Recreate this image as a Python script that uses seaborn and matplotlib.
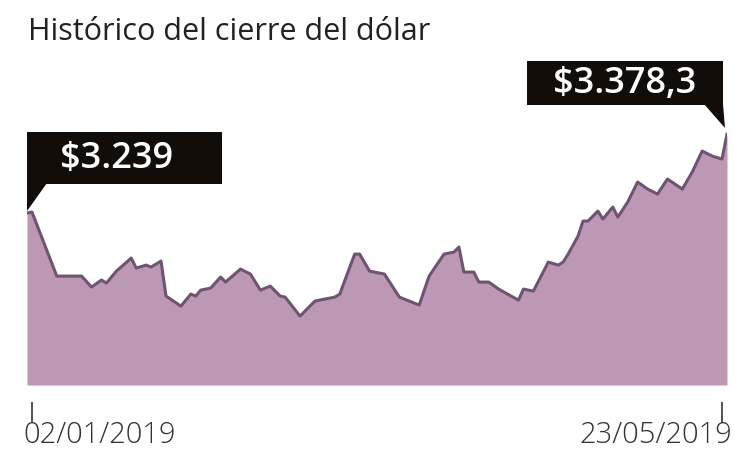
import pandas as pd
import numpy as np
import matplotlib
matplotlib.use("Agg")
from matplotlib import pyplot as plt
from matplotlib.patches import Polygon
import matplotlib.dates as mdates
import matplotlib.transforms as mtransforms
import seaborn as sns

# days after 02/01/2019 and closing price
day_offsets = [0, 1, 6, 11, 13, 15, 16, 18, 21, 22, 24, 25, 27, 28, 31, 33, 34, 35,
               37, 39, 40, 43, 45, 47, 49, 51, 52, 55, 58, 62, 63, 66, 67, 69, 72,
               75, 79, 81, 84, 86, 87, 88, 90, 91, 93, 95, 99, 100, 102, 105, 107,
               108, 109, 111, 112, 113, 115, 116, 118, 119, 121, 123, 125, 127, 129,
               132, 134, 136, 138, 140, 141]
closing = [3239.0, 3240.8, 3127.9, 3127.9, 3108.5, 3120.9, 3115.6, 3136.7, 3159.7,
           3142.0, 3147.3, 3143.8, 3154.4, 3092.7, 3075.0, 3096.2, 3092.7, 3103.2,
           3106.8, 3126.2, 3117.4, 3140.3, 3131.5, 3103.2, 3110.3, 3092.7, 3090.9,
           3057.4, 3083.9, 3090.9, 3096.2, 3166.7, 3166.7, 3136.7, 3131.5, 3090.9,
           3076.8, 3127.9, 3166.7, 3170.2, 3179.1, 3135.0, 3135.0, 3117.4, 3117.4,
           3105.0, 3085.6, 3105.0, 3101.5, 3152.6, 3147.3, 3152.6, 3166.7, 3198.5,
           3224.9, 3224.9, 3242.5, 3228.4, 3249.6, 3231.9, 3258.4, 3293.7, 3281.3,
           3272.5, 3298.9, 3281.3, 3311.3, 3348.3, 3339.5, 3334.2, 3378.3]
tick_labels = ["02/01/2019", "23/05/2019"]
first_label = "$3.239"
last_label = "$3.378,3"
title = "Histórico del cierre del dólar"

df = pd.DataFrame({
    "fecha": pd.Timestamp("2019-01-02") + pd.to_timedelta(day_offsets, unit="D"),
    "cierre": closing,
})

sns.set_style("white")
plt.rcParams['font.family'] = ['Open Sans', 'DejaVu Sans']

W, H = 734, 452
fig = plt.figure(figsize=(W / 100, H / 100), dpi=100)
ax = fig.add_axes([27 / W, (H - 386) / H, 700 / W, 286 / H])

fill_col = "#bd98b5"
line_col = "#6e5472"
ax.fill_between(df["fecha"], df["cierre"], 2936, color=fill_col, lw=0)
sns.lineplot(data=df, x="fecha", y="cierre", ax=ax, color=line_col, lw=2.2)

ax.set_xlim(df["fecha"].iloc[0], df["fecha"].iloc[-1])
ax.set_ylim(2936, 3440)
ax.set_xlabel("")
ax.set_ylabel("")
ax.set_yticks([])
for s in ax.spines.values():
    s.set_visible(False)

# ticks a bit inside the area edges, as in the original
ticks = [mdates.date2num(df["fecha"].iloc[0]) + 1.0,
         mdates.date2num(df["fecha"].iloc[-1]) - 1.0]
ax.set_xticks(ticks, labels=["", ""])
ax.spines['bottom'].set_position(('outward', 12))
ax.tick_params(axis='x', bottom=True, length=15, width=1.3, color="#444444",
               direction='out')

# date labels under the ticks
trans = mtransforms.blended_transform_factory(ax.transData, fig.transFigure)
ax.text(ticks[0] - 1.8, 1 - 443 / H, tick_labels[0], transform=trans, ha='left',
        va='baseline', fontsize=21, fontweight='light', color="#333333")
ax.text(ticks[1] + 2.0, 1 - 443 / H, tick_labels[1], transform=trans, ha='right',
        va='baseline', fontsize=21, fontweight='light', color="#333333", clip_on=False)

fig.text(28 / W, 1 - 32 / H, title, fontsize=22, color="#222222", va='center', ha='left')


def to_fig(xp, yp):
    return (xp / W, 1 - yp / H)


def callout(box, tail, text, tx, ty):
    for pts in (box, tail):
        poly = Polygon([to_fig(*p) for p in pts], closed=True, transform=fig.transFigure,
                       facecolor="#130d0a", edgecolor='none')
        fig.patches.append(poly)
    fig.text(*to_fig(tx, ty), text, color="white", fontsize=26, fontweight='semibold',
             ha='center', va='center')


# tail tips at first and last data points
x0, y0 = ax.transData.transform((mdates.date2num(df["fecha"].iloc[0]), df["cierre"].iloc[0]))
x1, y1 = ax.transData.transform((mdates.date2num(df["fecha"].iloc[-1]), df["cierre"].iloc[-1]))
callout([(27, 133), (222, 133), (222, 185), (27, 185)],
        [(27, 184), (47, 184), (x0, H - y0 - 2)], first_label, 117, 159)
callout([(527, 62), (723, 62), (723, 106), (527, 106)],
        [(704, 105), (723, 105), (x1 - 2, H - y1 - 6)], last_label, 625, 84)

plt.savefig("out.png", dpi=100)
